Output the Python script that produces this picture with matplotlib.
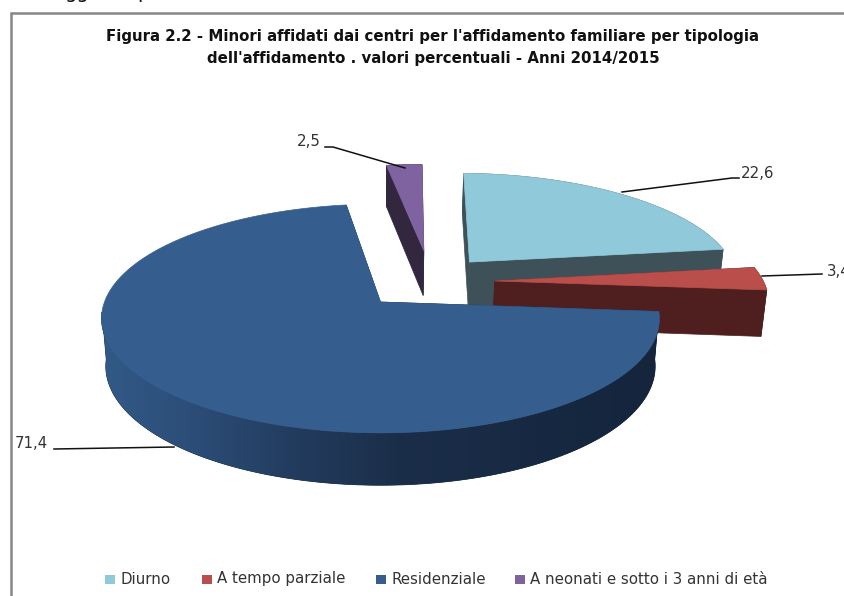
import numpy as np
import matplotlib
matplotlib.use('Agg')
import matplotlib.pyplot as plt
from matplotlib.colors import to_rgb
from matplotlib.patches import Polygon, Rectangle

categories = ['Diurno', 'A tempo parziale', 'Residenziale', 'A neonati e sotto i 3 anni di età']
values = [22.6, 3.4, 71.4, 2.5]
value_labels = ['22,6', '3,4', '71,4', '2,5']

top_colors = ['#8fc9da', '#b94e4b', '#355e8f', '#7f63a0']
cut_colors = ['#3e5158', '#4e1f1e', '#14253c', '#33263f']

# how far each slice is pulled out, in pie units
explode = [(0.34, 0.376), (0.425, 0.193), (0.0, 0.0), (0.168, 0.49)]
draw_order = [3, 0, 1, 2]

CX, CY = 380.5, 302
RX, RY, PERSP = 276, 112, 0.144
DEPTH = 47
START = 1.2

def project(X, Y, bottom=False):
    #perspective on the pie plane, everything in pixels
    w = 1 + PERSP * Y
    x = RX * X / w
    y = -RY * Y / w
    if bottom:
        return CX + x * 0.985, CY + y + DEPTH / w**0.7
    return CX + x, CY + y

def draw_rim(ax, rim_top, rim_bot, i, front):
    #the big slice wraps round the back, keep only the part facing us
    outline = np.vstack([rim_top[front], rim_bot[front][::-1]])
    patch = Polygon(outline, fc=cut_colors[i], ec=cut_colors[i], lw=0.5)
    ax.add_patch(patch)
    if i != 2:
        return
    stops_x = [100, 200, 300, 400, 500, 650]
    stops = np.array([to_rgb(c) for c in ['#335a88', '#2b4c76', '#223b5d', '#1b2e49', '#182a44', '#14253c']])
    xs = np.arange(100, 661)
    grad = np.dstack([np.interp(xs, stops_x, stops[:, c]) for c in range(3)])
    im = ax.imshow(grad, extent=(100, 660, outline[:, 1].max() + 1, outline[:, 1].min() - 1),
                   aspect='auto', interpolation='bilinear', zorder=patch.get_zorder())
    im.set_clip_path(patch)

fig = plt.figure(figsize=(8.45, 5.96), dpi=100)
ax = fig.add_axes([0, 0, 1, 1])
ax.axis('off')

plt.rcParams['font.family'] = ['DejaVu Sans']

# chart frame, runs off the page right and below
ax.plot([11.5, 11.5, 845], [596, 12.5, 12.5], color='#868686', lw=1.8, solid_joinstyle='miter')

# bits of the line of text above the chart
ax.text(65, -2, 'gg', fontsize=14, color='#111111', va='baseline', clip_on=True)
ax.text(137, -2, 'p', fontsize=14, color='#111111', va='baseline', clip_on=True)

angles = np.cumsum([0] + values) / 100 * 360 + START
for i in draw_order:
    a0, a1 = np.radians(angles[i]), np.radians(angles[i + 1])
    ex, ey = explode[i]
    t = np.linspace(a0, a1, max(int(values[i] * 4), 12))
    X = ex + np.sin(t)
    Y = ey + np.cos(t)

    rim_top = np.array(project(X, Y)).T
    rim_bot = np.array(project(X, Y, bottom=True)).T
    apex_top = project(ex, ey)
    apex_bot = project(ex, ey, bottom=True)

    # cut faces
    for k in (0, -1):
        ax.add_patch(Polygon([apex_top, rim_top[k], rim_bot[k], apex_bot], fc=cut_colors[i], ec=cut_colors[i], lw=0.5))

    front = np.cos(t) <= -0.08 if i == 2 else np.ones(len(t), dtype=bool)
    draw_rim(ax, rim_top, rim_bot, i, front)
    ax.add_patch(Polygon(np.vstack([apex_top, rim_top]), fc=top_colors[i], ec=top_colors[i], lw=0.5))

ax.set_xlim(0, 845)
ax.set_ylim(596, 0)

title_kw = dict(ha='center', va='center', fontsize=10.8, fontweight='bold', color='#111111')
ax.text(433, 36, "Figura 2.2 - Minori affidati dai centri per l'affidamento familiare per tipologia", **title_kw)
ax.text(433, 58, "dell'affidamento . valori percentuali - Anni 2014/2015", **title_kw)

# leader lines and value labels
leaders = [([622, 732, 739], [192, 178, 178]),
           ([762, 822], [276, 274]),
           ([54, 174], [449, 447]),
           ([325, 333, 405], [147, 147, 168])]
label_pos = [(741, 174), (827, 271), (15, 444), (297, 142)]
for (lx, ly), (tx, ty), lab in zip(leaders, label_pos, value_labels):
    ax.plot(lx, ly, color='#111111', lw=1.1)
    ax.text(tx, ty, lab, fontsize=10.8, color='#333333', va='center', ha='left', clip_on=True)

# legend
swatch_x = [105, 202, 376, 515]
for x, lab, c in zip(swatch_x, categories, top_colors):
    ax.add_patch(Rectangle((x, 575), 10.5, 9, fc=c, ec='none'))
    ax.text(x + 15.5, 579, lab, fontsize=10.8, color='#333333', va='center', ha='left')

fig.savefig('out.png', dpi=100)
